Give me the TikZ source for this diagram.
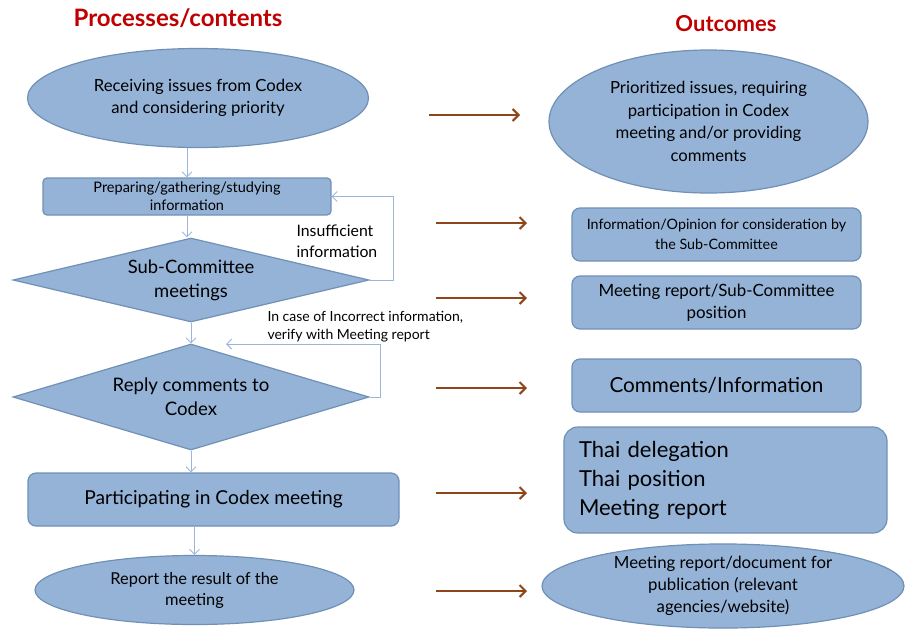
\documentclass[tikz,border=0pt]{standalone}
\usepackage{fontspec}
\setmainfont{Lato}
\usetikzlibrary{arrows.meta,shapes.geometric}
\definecolor{BoxFillClr}{HTML}{95B3D7}
\definecolor{BoxLineClr}{HTML}{7090B6}
\definecolor{FlowClr}{HTML}{9AB7DA}
\definecolor{OutArrowClr}{HTML}{8E451A}
\definecolor{TitleClr}{HTML}{C00000}
\newcommand\fsz[2]{\fontsize{#1}{#2}\selectfont}

\tikzset{
  shapebase/.style={fill=BoxFillClr,draw=BoxLineClr,line width=1.2pt,inner sep=0pt,align=center,text=black},
  oval/.style={shapebase,ellipse},
  box/.style={shapebase,rectangle,rounded corners=#1},
  box/.default=7pt,
  decision/.style={shapebase,diamond,aspect=4},
  flow/.style={draw=FlowClr,line width=0.9pt,-{Straight Barb[length=5pt,width=10pt]}},
  outarrow/.style={draw=OutArrowClr,line width=2pt,-{Straight Barb[length=6pt,width=12pt]}},
  heading/.style={text=TitleClr,font=\bfseries\fsz{22}{26}}
}

\begin{document}
\begin{tikzpicture}[x=1pt,y=-1pt]
\useasboundingbox (0,0) rectangle (905,630);

\node[heading,font=\bfseries\fsz{24}{28}] (proc) at (178,18) {Processes/contents};
\node[heading] (outc) at (726,24) {Outcomes};

\node[oval,minimum width=341pt,minimum height=99pt,font=\fsz{16.7}{22}] (receive) at (198,98)
  {Receiving issues from Codex\\and considering priority};
\node[box=4pt,minimum width=288pt,minimum height=37pt,font=\fsz{14.5}{18}] (prep) at (187,196.5)
  {Preparing/gathering/studying\\information};
\node[decision,minimum width=356pt,minimum height=84pt,font=\fsz{18.4}{24}] (sub) at (191,280)
  {Sub-Committee\\meetings};
\node[decision,minimum width=356pt,minimum height=106pt,font=\fsz{18.6}{24}] (reply) at (191,397)
  {Reply comments to\\Codex};
\node[box=8pt,minimum width=371pt,minimum height=53pt,font=\fsz{19.2}{24}] (part) at (213.5,499.5)
  {Participating in Codex meeting};
\node[oval,minimum width=319pt,minimum height=69pt,font=\fsz{16.4}{21}] (report) at (194.5,590)
  {Report the result of the\\meeting};

\node[anchor=west,align=left,font=\fsz{15.8}{21}] (insuff) at (293,241) {Insufficient\\information};
\node[anchor=west,align=left,font=\fsz{14}{18}] (incorrect) at (264,327)
  {In case of Incorrect information,\\verify with Meeting report};
\coordinate (verify) at (226,344);

\draw[flow] (prep.north |- receive.south) -- (prep.north);
\draw[flow] (prep.south) -- (prep.south |- sub.north);
\draw[flow] (sub.south) -- (reply.north);
\draw[flow] (reply.south) -- (reply.south |- part.north);
\draw[flow] (report.north |- part.south) -- (report.north);
\draw[flow] (sub.east) -- ++(24,0) |- (prep.east);
\draw[flow] (reply.east) -- ++(11,0) |- (verify);

\node[oval,minimum width=319pt,minimum height=143pt,font=\fsz{16.7}{22.5}] (outA) at (708.5,121.5)
  {Prioritized issues, requiring\\participation in Codex\\meeting and/or providing\\comments};
\node[box=8pt,minimum width=289pt,minimum height=53pt,font=\fsz{14.3}{20}] (outB) at (716.5,234.5)
  {Information/Opinion for consideration by\\the Sub-Committee};
\node[box=8pt,minimum width=289pt,minimum height=53pt,font=\fsz{16.9}{22}] (outC) at (716.5,302.5)
  {Meeting report/Sub-Committee\\position};
\node[box=8pt,minimum width=289pt,minimum height=53pt,font=\fsz{20.7}{24}] (outD) at (716.5,385.5)
  {Comments/Information};
\node[box=14pt,align=left,text width=293pt,inner xsep=15pt,minimum height=106pt,font=\fsz{22}{29}] (outE) at (725.5,480)
  {Thai delegation\\Thai position\\Meeting report};
\node[oval,minimum width=362pt,minimum height=82pt,font=\fsz{16.8}{22}] (outF) at (723,586)
  {Meeting report/document for\\publication (relevant\\agencies/website)};

\foreach \y/\xs/\xe [count=\i] in {115/429/520,223/436/527,298/436/527,388/436/527,493/436/527,591/436/527}{
  \coordinate (os\i) at (\xs,\y);
  \coordinate (oe\i) at (\xe,\y);
  \draw[outarrow] (os\i) -- (oe\i);
}

\end{tikzpicture}
\end{document}
